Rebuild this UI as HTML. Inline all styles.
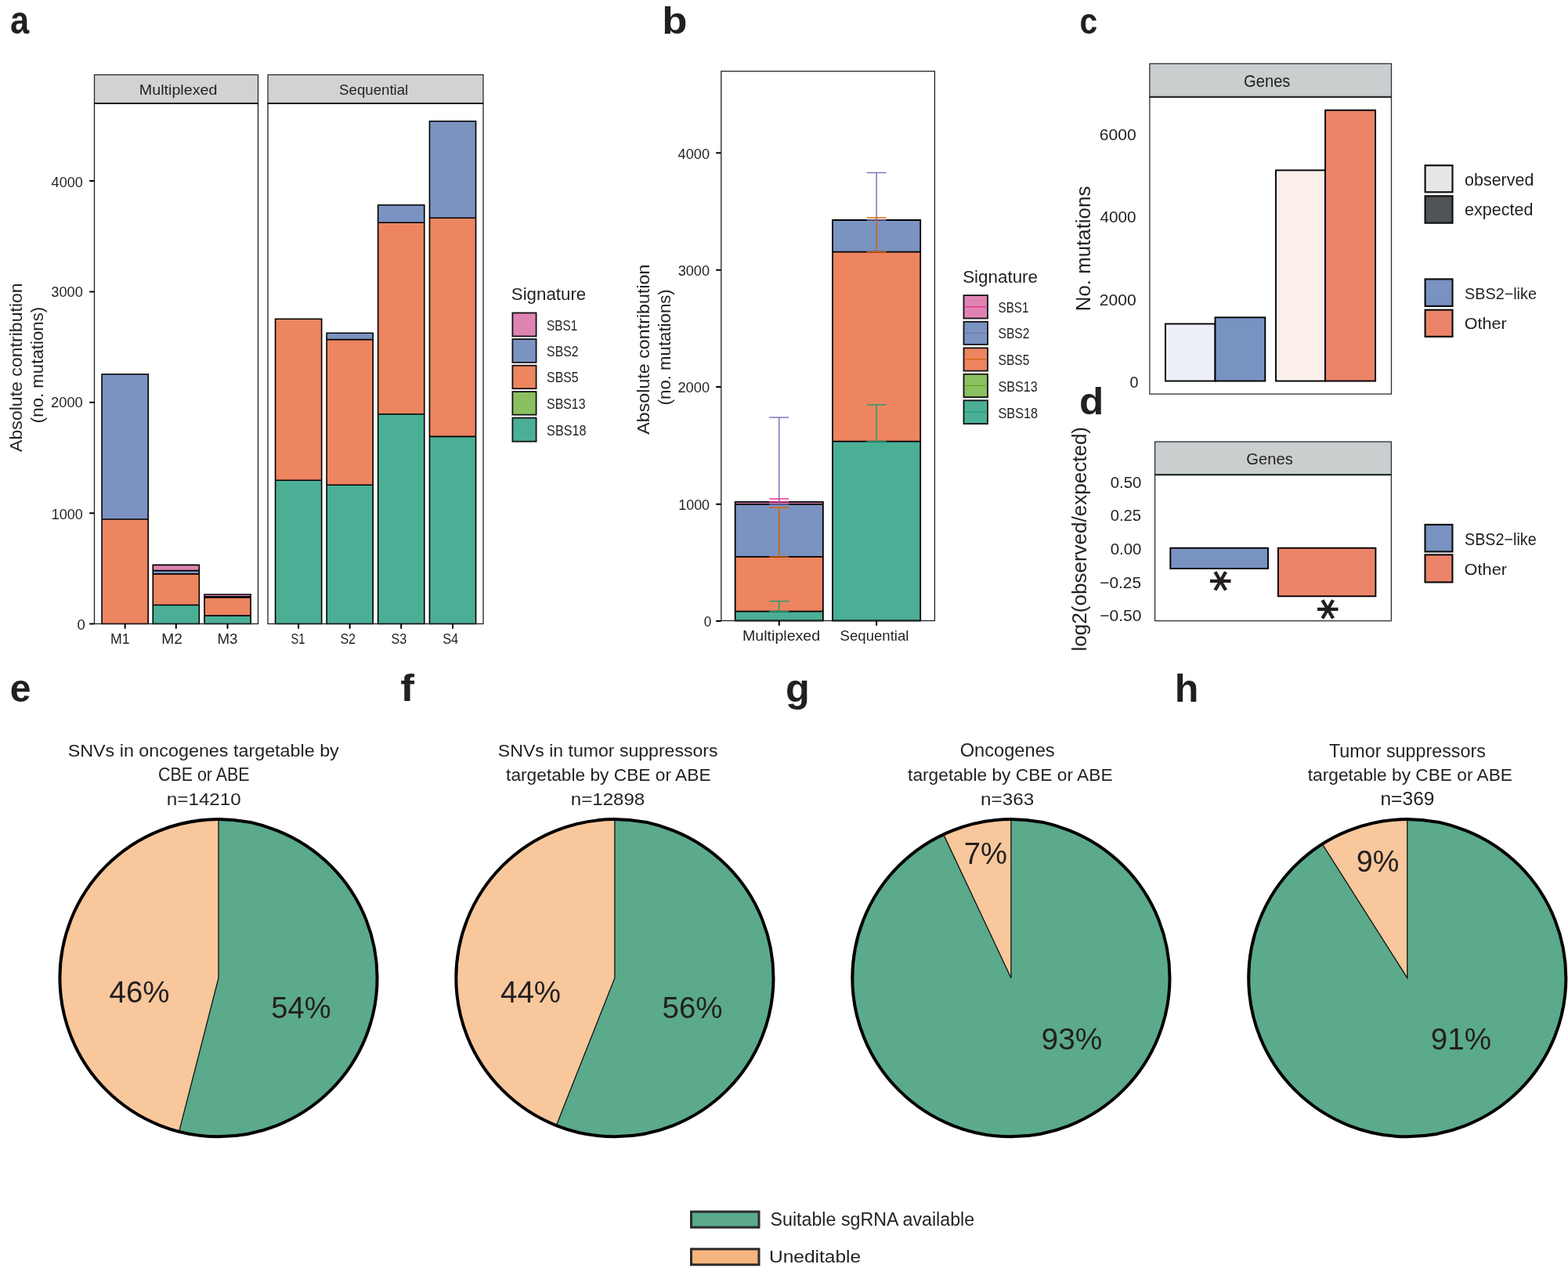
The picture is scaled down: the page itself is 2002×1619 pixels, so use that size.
<!DOCTYPE html>
<html><head><meta charset="utf-8"><title>Figure</title>
<style>html,body{margin:0;padding:0;background:#fff;}svg{display:block;}text{font-family:'Liberation Sans', Arial, sans-serif;}</style>
</head><body>
<svg width="2002" height="1619" viewBox="0 0 2002 1619">
<rect x="0" y="0" width="2002" height="1619" fill="#fff"/>
<rect x="120.50" y="95.50" width="209.00" height="36.30" fill="#D1D3D3" stroke="#1c1f21" stroke-width="1.2" />
<rect x="342.00" y="95.50" width="275.00" height="36.30" fill="#D1D3D3" stroke="#1c1f21" stroke-width="1.2" />
<rect x="130.10" y="663.00" width="59.10" height="133.50" fill="#EC8560"/>
<rect x="130.10" y="477.80" width="59.10" height="185.20" fill="#7B93C1"/>
<path d="M130.10,477.80H189.20V796.50H130.10ZM130.10,663.00H189.20" fill="none" stroke="#000" stroke-width="1.6"/>
<rect x="195.25" y="772.50" width="59.10" height="24.00" fill="#4BAF96"/>
<rect x="195.25" y="732.90" width="59.10" height="39.60" fill="#EC8560"/>
<rect x="195.25" y="728.60" width="59.10" height="4.30" fill="#7B93C1"/>
<rect x="195.25" y="721.40" width="59.10" height="7.20" fill="#DF84B2"/>
<path d="M195.25,721.40H254.35V796.50H195.25ZM195.25,772.50H254.35M195.25,732.90H254.35M195.25,728.60H254.35" fill="none" stroke="#000" stroke-width="1.6"/>
<rect x="261.00" y="786.10" width="59.10" height="10.40" fill="#4BAF96"/>
<rect x="261.00" y="763.00" width="59.10" height="23.10" fill="#EC8560"/>
<rect x="261.00" y="761.70" width="59.10" height="1.30" fill="#7B93C1"/>
<rect x="261.00" y="759.00" width="59.10" height="2.70" fill="#DF84B2"/>
<path d="M261.00,759.00H320.10V796.50H261.00ZM261.00,786.10H320.10M261.00,763.00H320.10M261.00,761.70H320.10" fill="none" stroke="#000" stroke-width="1.6"/>
<rect x="351.55" y="613.20" width="59.10" height="183.30" fill="#4BAF96"/>
<rect x="351.55" y="407.30" width="59.10" height="205.90" fill="#EC8560"/>
<path d="M351.55,407.30H410.65V796.50H351.55ZM351.55,613.20H410.65" fill="none" stroke="#000" stroke-width="1.6"/>
<rect x="417.10" y="619.30" width="59.10" height="177.20" fill="#4BAF96"/>
<rect x="417.10" y="433.60" width="59.10" height="185.70" fill="#EC8560"/>
<rect x="417.10" y="425.30" width="59.10" height="8.30" fill="#7B93C1"/>
<path d="M417.10,425.30H476.20V796.50H417.10ZM417.10,619.30H476.20M417.10,433.60H476.20" fill="none" stroke="#000" stroke-width="1.6"/>
<rect x="482.65" y="528.80" width="59.10" height="267.70" fill="#4BAF96"/>
<rect x="482.65" y="284.20" width="59.10" height="244.60" fill="#EC8560"/>
<rect x="482.65" y="261.80" width="59.10" height="22.40" fill="#7B93C1"/>
<path d="M482.65,261.80H541.75V796.50H482.65ZM482.65,528.80H541.75M482.65,284.20H541.75" fill="none" stroke="#000" stroke-width="1.6"/>
<rect x="548.45" y="557.40" width="59.10" height="239.10" fill="#4BAF96"/>
<rect x="548.45" y="278.30" width="59.10" height="279.10" fill="#EC8560"/>
<rect x="548.45" y="154.70" width="59.10" height="123.60" fill="#7B93C1"/>
<path d="M548.45,154.70H607.55V796.50H548.45ZM548.45,557.40H607.55M548.45,278.30H607.55" fill="none" stroke="#000" stroke-width="1.6"/>
<rect x="120.50" y="131.80" width="209.00" height="664.70" fill="none" stroke="#1c1f21" stroke-width="1.3" />
<rect x="342.00" y="131.80" width="275.00" height="664.70" fill="none" stroke="#1c1f21" stroke-width="1.3" />
<line x1="120.50" y1="132.00" x2="329.50" y2="132.00" stroke="#111" stroke-width="2.0" />
<line x1="342.00" y1="132.00" x2="617.00" y2="132.00" stroke="#111" stroke-width="2.0" />
<line x1="115.00" y1="796.50" x2="119.60" y2="796.50" stroke="#000" stroke-width="2.0" stroke-linecap="round"/>
<line x1="115.00" y1="655.15" x2="119.60" y2="655.15" stroke="#000" stroke-width="2.0" stroke-linecap="round"/>
<line x1="115.00" y1="513.80" x2="119.60" y2="513.80" stroke="#000" stroke-width="2.0" stroke-linecap="round"/>
<line x1="115.00" y1="372.45" x2="119.60" y2="372.45" stroke="#000" stroke-width="2.0" stroke-linecap="round"/>
<line x1="115.00" y1="231.10" x2="119.60" y2="231.10" stroke="#000" stroke-width="2.0" stroke-linecap="round"/>
<line x1="159.65" y1="797.40" x2="159.65" y2="802.00" stroke="#000" stroke-width="2.0" stroke-linecap="round"/>
<line x1="224.80" y1="797.40" x2="224.80" y2="802.00" stroke="#000" stroke-width="2.0" stroke-linecap="round"/>
<line x1="290.55" y1="797.40" x2="290.55" y2="802.00" stroke="#000" stroke-width="2.0" stroke-linecap="round"/>
<line x1="381.10" y1="797.40" x2="381.10" y2="802.00" stroke="#000" stroke-width="2.0" stroke-linecap="round"/>
<line x1="446.65" y1="797.40" x2="446.65" y2="802.00" stroke="#000" stroke-width="2.0" stroke-linecap="round"/>
<line x1="512.20" y1="797.40" x2="512.20" y2="802.00" stroke="#000" stroke-width="2.0" stroke-linecap="round"/>
<line x1="578.00" y1="797.40" x2="578.00" y2="802.00" stroke="#000" stroke-width="2.0" stroke-linecap="round"/>
<rect x="654.40" y="399.50" width="30.20" height="29.90" fill="#DF84B2" stroke="#111" stroke-width="1.8" />
<rect x="654.40" y="433.00" width="30.20" height="29.80" fill="#7B93C1" stroke="#111" stroke-width="1.8" />
<rect x="654.40" y="466.70" width="30.20" height="29.50" fill="#EC8560" stroke="#111" stroke-width="1.8" />
<rect x="654.40" y="500.10" width="30.20" height="29.50" fill="#8BC061" stroke="#111" stroke-width="1.8" />
<rect x="654.40" y="533.50" width="30.20" height="30.20" fill="#4BAF96" stroke="#111" stroke-width="1.8" />
<rect x="938.65" y="780.60" width="112.20" height="11.90" fill="#4BAF96"/>
<rect x="938.65" y="710.90" width="112.20" height="69.70" fill="#EC8560"/>
<rect x="938.65" y="643.90" width="112.20" height="67.00" fill="#7B93C1"/>
<rect x="938.65" y="640.80" width="112.20" height="3.10" fill="#DF84B2"/>
<path d="M938.65,640.80H1050.85V792.50H938.65ZM938.65,780.60H1050.85M938.65,710.90H1050.85M938.65,643.90H1050.85" fill="none" stroke="#000" stroke-width="1.8"/>
<rect x="1063.00" y="563.60" width="112.20" height="228.90" fill="#4BAF96"/>
<rect x="1063.00" y="321.60" width="112.20" height="242.00" fill="#EC8560"/>
<rect x="1063.00" y="281.00" width="112.20" height="40.60" fill="#7B93C1"/>
<path d="M1063.00,281.00H1175.20V792.50H1063.00ZM1063.00,563.60H1175.20M1063.00,321.60H1175.20" fill="none" stroke="#000" stroke-width="1.8"/>
<rect x="920.80" y="91.00" width="272.60" height="701.50" fill="none" stroke="#1c1f21" stroke-width="1.3" />
<line x1="994.75" y1="640.80" x2="994.75" y2="636.90" stroke="#E7298A" stroke-width="1.4" />
<line x1="982.35" y1="640.80" x2="1007.15" y2="640.80" stroke="#E7298A" stroke-width="1.4" />
<line x1="982.35" y1="636.90" x2="1007.15" y2="636.90" stroke="#E7298A" stroke-width="1.4" />
<line x1="994.75" y1="643.90" x2="994.75" y2="533.00" stroke="#7570B3" stroke-width="1.4" />
<line x1="982.35" y1="643.90" x2="1007.15" y2="643.90" stroke="#7570B3" stroke-width="1.4" />
<line x1="982.35" y1="533.00" x2="1007.15" y2="533.00" stroke="#7570B3" stroke-width="1.4" />
<line x1="994.75" y1="710.90" x2="994.75" y2="648.10" stroke="#D95F02" stroke-width="1.4" />
<line x1="982.35" y1="710.90" x2="1007.15" y2="710.90" stroke="#D95F02" stroke-width="1.4" />
<line x1="982.35" y1="648.10" x2="1007.15" y2="648.10" stroke="#D95F02" stroke-width="1.4" />
<line x1="994.75" y1="780.60" x2="994.75" y2="767.60" stroke="#1B9E77" stroke-width="1.4" />
<line x1="982.35" y1="780.60" x2="1007.15" y2="780.60" stroke="#1B9E77" stroke-width="1.4" />
<line x1="982.35" y1="767.60" x2="1007.15" y2="767.60" stroke="#1B9E77" stroke-width="1.4" />
<line x1="1119.10" y1="281.00" x2="1119.10" y2="220.50" stroke="#7570B3" stroke-width="1.4" />
<line x1="1106.70" y1="281.00" x2="1131.50" y2="281.00" stroke="#7570B3" stroke-width="1.4" />
<line x1="1106.70" y1="220.50" x2="1131.50" y2="220.50" stroke="#7570B3" stroke-width="1.4" />
<line x1="1119.10" y1="321.60" x2="1119.10" y2="278.00" stroke="#D95F02" stroke-width="1.4" />
<line x1="1106.70" y1="321.60" x2="1131.50" y2="321.60" stroke="#D95F02" stroke-width="1.4" />
<line x1="1106.70" y1="278.00" x2="1131.50" y2="278.00" stroke="#D95F02" stroke-width="1.4" />
<line x1="1119.10" y1="563.60" x2="1119.10" y2="516.90" stroke="#1B9E77" stroke-width="1.4" />
<line x1="1106.70" y1="563.60" x2="1131.50" y2="563.60" stroke="#1B9E77" stroke-width="1.4" />
<line x1="1106.70" y1="516.90" x2="1131.50" y2="516.90" stroke="#1B9E77" stroke-width="1.4" />
<line x1="915.00" y1="195.30" x2="919.90" y2="195.30" stroke="#000" stroke-width="2.0" stroke-linecap="round"/>
<line x1="915.00" y1="344.80" x2="919.90" y2="344.80" stroke="#000" stroke-width="2.0" stroke-linecap="round"/>
<line x1="915.00" y1="494.00" x2="919.90" y2="494.00" stroke="#000" stroke-width="2.0" stroke-linecap="round"/>
<line x1="915.00" y1="643.70" x2="919.90" y2="643.70" stroke="#000" stroke-width="2.0" stroke-linecap="round"/>
<line x1="915.00" y1="792.90" x2="919.90" y2="792.90" stroke="#000" stroke-width="2.0" stroke-linecap="round"/>
<line x1="994.75" y1="793.40" x2="994.75" y2="798.00" stroke="#000" stroke-width="2.0" stroke-linecap="round"/>
<line x1="1119.10" y1="793.40" x2="1119.10" y2="798.00" stroke="#000" stroke-width="2.0" stroke-linecap="round"/>
<rect x="1230.50" y="377.10" width="30.50" height="29.40" fill="#DF84B2" stroke="#111" stroke-width="1.8" />
<line x1="1232.30" y1="391.80" x2="1259.00" y2="391.80" stroke="#E7298A" stroke-width="1.2" />
<rect x="1230.50" y="410.80" width="30.50" height="29.10" fill="#7B93C1" stroke="#111" stroke-width="1.8" />
<line x1="1232.30" y1="425.35" x2="1259.00" y2="425.35" stroke="#7570B3" stroke-width="1.2" />
<rect x="1230.50" y="444.30" width="30.50" height="29.30" fill="#EC8560" stroke="#111" stroke-width="1.8" />
<line x1="1232.30" y1="458.95" x2="1259.00" y2="458.95" stroke="#D95F02" stroke-width="1.2" />
<rect x="1230.50" y="477.70" width="30.50" height="29.40" fill="#8BC061" stroke="#111" stroke-width="1.8" />
<line x1="1232.30" y1="492.40" x2="1259.00" y2="492.40" stroke="#66A61E" stroke-width="1.2" />
<rect x="1230.50" y="511.30" width="30.50" height="29.80" fill="#4BAF96" stroke="#111" stroke-width="1.8" />
<line x1="1232.30" y1="526.20" x2="1259.00" y2="526.20" stroke="#1B9E77" stroke-width="1.2" />
<rect x="1467.90" y="81.30" width="308.60" height="42.40" fill="#C9CECE" stroke="#263034" stroke-width="1.3" />
<rect x="1467.90" y="123.70" width="308.60" height="379.40" fill="none" stroke="#263034" stroke-width="1.3" />
<line x1="1467.90" y1="123.70" x2="1776.50" y2="123.70" stroke="#1d2326" stroke-width="2.0" />
<rect x="1488.00" y="413.50" width="63.50" height="73.00" fill="#ECEFF7" stroke="#000" stroke-width="1.9" />
<rect x="1551.50" y="405.30" width="63.80" height="81.20" fill="#7892C2" stroke="#000" stroke-width="1.9" />
<rect x="1629.00" y="217.40" width="63.10" height="269.10" fill="#FBEFEA" stroke="#000" stroke-width="1.9" />
<rect x="1692.10" y="140.70" width="64.00" height="345.80" fill="#EC846A" stroke="#000" stroke-width="1.9" />
<rect x="1819.60" y="211.20" width="34.90" height="34.10" fill="#E6E8E7" stroke="#111" stroke-width="2.2" />
<rect x="1819.60" y="250.30" width="34.90" height="34.40" fill="#4F5459" stroke="#111" stroke-width="2.2" />
<rect x="1819.60" y="356.40" width="34.90" height="34.50" fill="#7892C2" stroke="#111" stroke-width="2.2" />
<rect x="1819.60" y="395.70" width="34.90" height="34.10" fill="#EC846A" stroke="#111" stroke-width="2.2" />
<rect x="1474.60" y="564.00" width="301.80" height="42.30" fill="#C9CECE" stroke="#263034" stroke-width="1.3" />
<rect x="1474.60" y="606.30" width="301.80" height="186.40" fill="none" stroke="#263034" stroke-width="1.3" />
<line x1="1474.60" y1="606.30" x2="1776.40" y2="606.30" stroke="#1d2326" stroke-width="2.0" />
<rect x="1494.30" y="699.70" width="124.70" height="26.20" fill="#7892C2" stroke="#000" stroke-width="1.9" />
<rect x="1631.90" y="699.70" width="124.50" height="61.60" fill="#EC846A" stroke="#000" stroke-width="1.9" />
<rect x="1819.50" y="669.90" width="34.90" height="34.50" fill="#7892C2" stroke="#111" stroke-width="2.2" />
<rect x="1819.50" y="708.30" width="34.90" height="35.10" fill="#EC846A" stroke="#111" stroke-width="2.2" />
<circle cx="279.0" cy="1248.7" r="202.6" fill="#F8C79C"/>
<path d="M279.0,1248.7 L279.0,1046.1000000000001 A202.6,202.6 0 1 1 228.62,1444.93 Z" fill="#5AAA8B"/>
<path d="M279.0,1046.1000000000001 L279.0,1248.7 L228.62,1444.93" fill="none" stroke="#111" stroke-width="1.3" stroke-linejoin="miter"/>
<circle cx="279.0" cy="1248.7" r="202.6" fill="none" stroke="#000" stroke-width="4.0"/>
<circle cx="784.9" cy="1248.7" r="202.6" fill="#F8C79C"/>
<path d="M784.9,1248.7 L784.9,1046.1000000000001 A202.6,202.6 0 1 1 710.32,1437.07 Z" fill="#5AAA8B"/>
<path d="M784.9,1046.1000000000001 L784.9,1248.7 L710.32,1437.07" fill="none" stroke="#111" stroke-width="1.3" stroke-linejoin="miter"/>
<circle cx="784.9" cy="1248.7" r="202.6" fill="none" stroke="#000" stroke-width="4.0"/>
<circle cx="1290.9" cy="1248.7" r="202.6" fill="#F8C79C"/>
<path d="M1290.9,1248.7 L1290.9,1046.1000000000001 A202.6,202.6 0 1 1 1204.64,1065.38 Z" fill="#5AAA8B"/>
<path d="M1290.9,1046.1000000000001 L1290.9,1248.7 L1204.64,1065.38" fill="none" stroke="#111" stroke-width="1.3" stroke-linejoin="miter"/>
<circle cx="1290.9" cy="1248.7" r="202.6" fill="none" stroke="#000" stroke-width="4.0"/>
<circle cx="1796.8" cy="1248.7" r="202.6" fill="#F8C79C"/>
<path d="M1796.8,1248.7 L1796.8,1046.1000000000001 A202.6,202.6 0 1 1 1688.24,1077.64 Z" fill="#5AAA8B"/>
<path d="M1796.8,1046.1000000000001 L1796.8,1248.7 L1688.24,1077.64" fill="none" stroke="#111" stroke-width="1.3" stroke-linejoin="miter"/>
<circle cx="1796.8" cy="1248.7" r="202.6" fill="none" stroke="#000" stroke-width="4.0"/>
<rect x="882.50" y="1547.10" width="86.50" height="20.00" fill="#5AAA8B" stroke="#2b2b2b" stroke-width="3.0" />
<rect x="882.50" y="1594.80" width="86.50" height="20.00" fill="#F5B47D" stroke="#2b2b2b" stroke-width="3.0" />
<text x="12.92" y="43.00" font-size="49.37" font-weight="bold" textLength="24.20" lengthAdjust="spacingAndGlyphs" fill="#231F20">a</text>
<text x="845.20" y="42.80" font-size="48.34" font-weight="bold" textLength="32.22" lengthAdjust="spacingAndGlyphs" fill="#231F20">b</text>
<text x="1378.52" y="42.90" font-size="46.26" font-weight="bold" textLength="22.69" lengthAdjust="spacingAndGlyphs" fill="#231F20">c</text>
<text x="1378.00" y="528.50" font-size="48.48" font-weight="bold" textLength="31.28" lengthAdjust="spacingAndGlyphs" fill="#231F20">d</text>
<text x="12.70" y="896.20" font-size="50.29" font-weight="bold" textLength="26.70" lengthAdjust="spacingAndGlyphs" fill="#231F20">e</text>
<text x="511.17" y="895.00" font-size="48.34" font-weight="bold" textLength="17.76" lengthAdjust="spacingAndGlyphs" fill="#231F20">f</text>
<text x="1002.92" y="895.80" font-size="49.55" font-weight="bold" textLength="30.80" lengthAdjust="spacingAndGlyphs" fill="#231F20">g</text>
<text x="1499.86" y="895.60" font-size="49.16" font-weight="bold" textLength="30.66" lengthAdjust="spacingAndGlyphs" fill="#231F20">h</text>
<text x="177.86" y="121.00" font-size="18.79" textLength="99.54" lengthAdjust="spacingAndGlyphs" fill="#231F20">Multiplexed</text>
<text x="433.12" y="121.00" font-size="18.79" textLength="88.11" lengthAdjust="spacingAndGlyphs" fill="#231F20">Sequential</text>
<text x="65.62" y="238.60" font-size="18.20" textLength="40.13" lengthAdjust="spacingAndGlyphs" fill="#231F20">4000</text>
<text x="65.33" y="379.30" font-size="18.20" textLength="40.42" lengthAdjust="spacingAndGlyphs" fill="#231F20">3000</text>
<text x="65.04" y="520.40" font-size="18.20" textLength="40.71" lengthAdjust="spacingAndGlyphs" fill="#231F20">2000</text>
<text x="65.67" y="662.60" font-size="17.92" textLength="40.07" lengthAdjust="spacingAndGlyphs" fill="#231F20">1000</text>
<text x="98.42" y="804.00" font-size="18.35" textLength="10.34" lengthAdjust="spacingAndGlyphs" fill="#231F20">0</text>
<text x="140.92" y="822.00" font-size="18.06" textLength="24.60" lengthAdjust="spacingAndGlyphs" fill="#231F20">M1</text>
<text x="206.21" y="822.00" font-size="18.06" textLength="26.57" lengthAdjust="spacingAndGlyphs" fill="#231F20">M2</text>
<text x="277.44" y="822.00" font-size="18.06" textLength="26.02" lengthAdjust="spacingAndGlyphs" fill="#231F20">M3</text>
<text x="371.54" y="821.80" font-size="18.49" textLength="17.95" lengthAdjust="spacingAndGlyphs" fill="#231F20">S1</text>
<text x="434.40" y="821.80" font-size="18.49" textLength="19.65" lengthAdjust="spacingAndGlyphs" fill="#231F20">S2</text>
<text x="499.40" y="821.80" font-size="18.49" textLength="19.76" lengthAdjust="spacingAndGlyphs" fill="#231F20">S3</text>
<text x="565.19" y="821.80" font-size="18.49" textLength="20.02" lengthAdjust="spacingAndGlyphs" fill="#231F20">S4</text>
<text transform="translate(28.20,576.90) rotate(-90)" x="0" y="0" font-size="21.24" textLength="215.60" lengthAdjust="spacingAndGlyphs" fill="#231F20">Absolute contribution</text>
<text transform="translate(54.80,540.14) rotate(-90)" x="0" y="0" font-size="21.24" textLength="148.29" lengthAdjust="spacingAndGlyphs" fill="#231F20">(no. mutations)</text>
<text x="652.80" y="383.40" font-size="21.92" textLength="95.40" lengthAdjust="spacingAndGlyphs" fill="#231F20">Signature</text>
<text x="698.12" y="421.80" font-size="18.20" textLength="39.10" lengthAdjust="spacingAndGlyphs" fill="#231F20">SBS1</text>
<text x="698.11" y="454.90" font-size="18.49" textLength="40.33" lengthAdjust="spacingAndGlyphs" fill="#231F20">SBS2</text>
<text x="698.11" y="488.40" font-size="18.63" textLength="40.33" lengthAdjust="spacingAndGlyphs" fill="#231F20">SBS5</text>
<text x="698.10" y="522.10" font-size="18.63" textLength="49.44" lengthAdjust="spacingAndGlyphs" fill="#231F20">SBS13</text>
<text x="698.09" y="555.80" font-size="18.63" textLength="50.57" lengthAdjust="spacingAndGlyphs" fill="#231F20">SBS18</text>
<text x="865.62" y="202.60" font-size="17.92" textLength="40.44" lengthAdjust="spacingAndGlyphs" fill="#231F20">4000</text>
<text x="865.73" y="351.90" font-size="18.20" textLength="40.32" lengthAdjust="spacingAndGlyphs" fill="#231F20">3000</text>
<text x="865.44" y="501.20" font-size="18.06" textLength="40.61" lengthAdjust="spacingAndGlyphs" fill="#231F20">2000</text>
<text x="866.28" y="650.80" font-size="18.20" textLength="39.76" lengthAdjust="spacingAndGlyphs" fill="#231F20">1000</text>
<text x="898.66" y="800.20" font-size="17.92" textLength="9.57" lengthAdjust="spacingAndGlyphs" fill="#231F20">0</text>
<text x="947.97" y="818.00" font-size="17.57" textLength="99.23" lengthAdjust="spacingAndGlyphs" fill="#231F20">Multiplexed</text>
<text x="1072.62" y="818.00" font-size="17.57" textLength="87.81" lengthAdjust="spacingAndGlyphs" fill="#231F20">Sequential</text>
<text transform="translate(829.00,554.70) rotate(-90)" x="0" y="0" font-size="21.24" textLength="217.11" lengthAdjust="spacingAndGlyphs" fill="#231F20">Absolute contribution</text>
<text transform="translate(855.60,517.34) rotate(-90)" x="0" y="0" font-size="21.24" textLength="148.09" lengthAdjust="spacingAndGlyphs" fill="#231F20">(no. mutations)</text>
<text x="1229.20" y="360.50" font-size="21.24" textLength="95.81" lengthAdjust="spacingAndGlyphs" fill="#231F20">Signature</text>
<text x="1274.52" y="398.90" font-size="18.20" textLength="38.89" lengthAdjust="spacingAndGlyphs" fill="#231F20">SBS1</text>
<text x="1274.51" y="432.30" font-size="18.20" textLength="39.82" lengthAdjust="spacingAndGlyphs" fill="#231F20">SBS2</text>
<text x="1274.51" y="466.10" font-size="18.63" textLength="39.82" lengthAdjust="spacingAndGlyphs" fill="#231F20">SBS5</text>
<text x="1274.50" y="499.80" font-size="18.63" textLength="50.26" lengthAdjust="spacingAndGlyphs" fill="#231F20">SBS13</text>
<text x="1274.49" y="533.50" font-size="18.63" textLength="50.57" lengthAdjust="spacingAndGlyphs" fill="#231F20">SBS18</text>
<text x="1588.06" y="110.50" font-size="21.19" textLength="59.37" lengthAdjust="spacingAndGlyphs" fill="#231F20">Genes</text>
<text x="1403.71" y="178.80" font-size="20.91" textLength="46.91" lengthAdjust="spacingAndGlyphs" fill="#231F20">6000</text>
<text x="1404.38" y="284.10" font-size="20.62" textLength="46.24" lengthAdjust="spacingAndGlyphs" fill="#231F20">4000</text>
<text x="1403.71" y="389.60" font-size="20.91" textLength="46.91" lengthAdjust="spacingAndGlyphs" fill="#231F20">2000</text>
<text x="1442.38" y="494.50" font-size="20.91" textLength="11.01" lengthAdjust="spacingAndGlyphs" fill="#231F20">0</text>
<text transform="translate(1392.00,397.22) rotate(-90)" x="0" y="0" font-size="25.33" textLength="159.53" lengthAdjust="spacingAndGlyphs" fill="#231F20">No. mutations</text>
<text x="1870.03" y="236.80" font-size="21.65" textLength="88.38" lengthAdjust="spacingAndGlyphs" fill="#231F20">observed</text>
<text x="1870.03" y="275.40" font-size="21.65" textLength="87.48" lengthAdjust="spacingAndGlyphs" fill="#231F20">expected</text>
<text x="1870.08" y="382.00" font-size="20.02" textLength="91.82" lengthAdjust="spacingAndGlyphs" fill="#231F20">SBS2−like</text>
<text x="1869.69" y="420.40" font-size="20.15" textLength="54.02" lengthAdjust="spacingAndGlyphs" fill="#231F20">Other</text>
<text x="1591.36" y="593.00" font-size="20.62" textLength="59.37" lengthAdjust="spacingAndGlyphs" fill="#231F20">Genes</text>
<text x="1417.66" y="623.10" font-size="20.91" textLength="39.64" lengthAdjust="spacingAndGlyphs" fill="#231F20">0.50</text>
<text x="1417.67" y="665.40" font-size="20.20" textLength="39.35" lengthAdjust="spacingAndGlyphs" fill="#231F20">0.25</text>
<text x="1417.66" y="708.00" font-size="20.62" textLength="39.64" lengthAdjust="spacingAndGlyphs" fill="#231F20">0.00</text>
<text x="1404.22" y="750.60" font-size="21.05" textLength="52.82" lengthAdjust="spacingAndGlyphs" fill="#231F20">−0.25</text>
<text x="1404.22" y="792.60" font-size="20.62" textLength="53.11" lengthAdjust="spacingAndGlyphs" fill="#231F20">−0.50</text>
<text transform="translate(1387.00,831.43) rotate(-90)" x="0" y="0" font-size="24.92" textLength="286.47" lengthAdjust="spacingAndGlyphs" fill="#231F20">log2(observed/expected)</text>
<text x="1869.98" y="695.90" font-size="21.24" textLength="91.72" lengthAdjust="spacingAndGlyphs" fill="#231F20">SBS2−like</text>
<text x="1869.58" y="733.70" font-size="20.56" textLength="54.43" lengthAdjust="spacingAndGlyphs" fill="#231F20">Other</text>
<text x="86.67" y="966.40" font-size="22.47" textLength="346.13" lengthAdjust="spacingAndGlyphs" fill="#231F20">SNVs in oncogenes targetable by</text>
<text x="202.01" y="996.90" font-size="23.47" textLength="116.58" lengthAdjust="spacingAndGlyphs" fill="#231F20">CBE or ABE</text>
<text x="212.79" y="1027.60" font-size="22.76" textLength="95.02" lengthAdjust="spacingAndGlyphs" fill="#231F20">n=14210</text>
<text x="635.88" y="966.40" font-size="22.47" textLength="280.64" lengthAdjust="spacingAndGlyphs" fill="#231F20">SNVs in tumor suppressors</text>
<text x="646.10" y="996.90" font-size="22.47" textLength="261.45" lengthAdjust="spacingAndGlyphs" fill="#231F20">targetable by CBE or ABE</text>
<text x="728.80" y="1027.60" font-size="22.76" textLength="94.38" lengthAdjust="spacingAndGlyphs" fill="#231F20">n=12898</text>
<text x="1225.69" y="966.40" font-size="23.47" textLength="120.95" lengthAdjust="spacingAndGlyphs" fill="#231F20">Oncogenes</text>
<text x="1159.10" y="996.90" font-size="22.47" textLength="261.45" lengthAdjust="spacingAndGlyphs" fill="#231F20">targetable by CBE or ABE</text>
<text x="1251.98" y="1027.60" font-size="22.76" textLength="68.20" lengthAdjust="spacingAndGlyphs" fill="#231F20">n=363</text>
<text x="1696.94" y="966.60" font-size="23.75" textLength="199.99" lengthAdjust="spacingAndGlyphs" fill="#231F20">Tumor suppressors</text>
<text x="1669.80" y="997.00" font-size="22.60" textLength="261.15" lengthAdjust="spacingAndGlyphs" fill="#231F20">targetable by CBE or ABE</text>
<text x="1762.46" y="1028.00" font-size="23.32" textLength="69.03" lengthAdjust="spacingAndGlyphs" fill="#231F20">n=369</text>
<text x="139.60" y="1280.00" font-size="38.68" textLength="76.95" lengthAdjust="spacingAndGlyphs" fill="#231F20">46%</text>
<text x="346.31" y="1300.40" font-size="38.68" textLength="76.22" lengthAdjust="spacingAndGlyphs" fill="#231F20">54%</text>
<text x="639.00" y="1280.00" font-size="38.68" textLength="77.05" lengthAdjust="spacingAndGlyphs" fill="#231F20">44%</text>
<text x="845.50" y="1300.40" font-size="38.68" textLength="77.05" lengthAdjust="spacingAndGlyphs" fill="#231F20">56%</text>
<text x="1230.71" y="1102.80" font-size="38.54" textLength="55.12" lengthAdjust="spacingAndGlyphs" fill="#231F20">7%</text>
<text x="1329.58" y="1339.80" font-size="38.68" textLength="77.68" lengthAdjust="spacingAndGlyphs" fill="#231F20">93%</text>
<text x="1731.73" y="1112.90" font-size="38.68" textLength="54.60" lengthAdjust="spacingAndGlyphs" fill="#231F20">9%</text>
<text x="1826.79" y="1339.80" font-size="38.68" textLength="77.16" lengthAdjust="spacingAndGlyphs" fill="#231F20">91%</text>
<text x="983.58" y="1565.00" font-size="23.15" textLength="260.56" lengthAdjust="spacingAndGlyphs" fill="#231F20">Suitable sgRNA available</text>
<text x="981.97" y="1612.30" font-size="22.88" textLength="117.23" lengthAdjust="spacingAndGlyphs" fill="#231F20">Uneditable</text>
<text transform="translate(1557.90,742.05) rotate(90) scale(0.5220,0.5739) translate(-26.56,50.78)" x="0" y="0" font-size="100" font-weight="bold" style="font-family:'DejaVu Sans',sans-serif" fill="#231F20">*</text>
<text transform="translate(1695.40,778.05) rotate(90) scale(0.5220,0.5739) translate(-26.56,50.78)" x="0" y="0" font-size="100" font-weight="bold" style="font-family:'DejaVu Sans',sans-serif" fill="#231F20">*</text>
</svg>
</body></html>
